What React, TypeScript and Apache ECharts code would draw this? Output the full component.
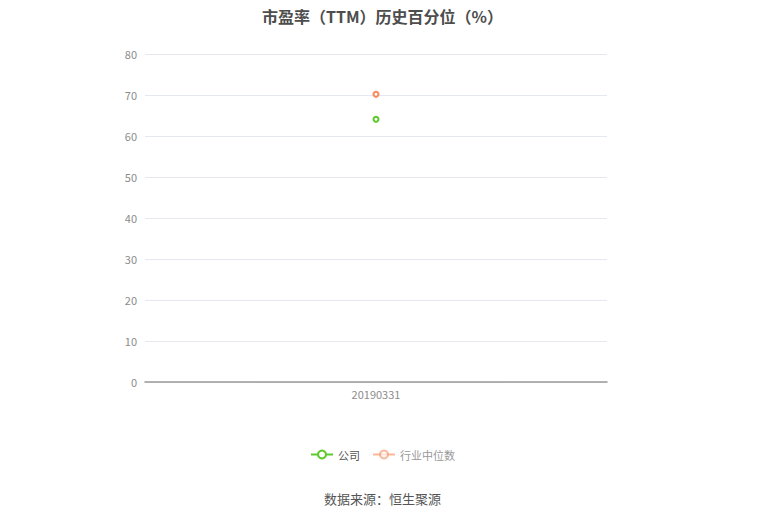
import React, { useEffect, useRef } from "react";
import * as echarts from "echarts";

const dates: string[] = ["20190331"];
const companyValues: number[] = [64.1];
const industryValues: number[] = [70.2];

const App: React.FC = () => {
  const chartRef = useRef<HTMLDivElement | null>(null);

  useEffect(() => {
    const chartDom = chartRef.current;
    if (!chartDom) return;
    const myChart = echarts.init(chartDom, undefined, { renderer: "svg" });

    const option = {
      animation: false,
      backgroundColor: "#fff",
      textStyle: { fontFamily: "Noto Sans CJK SC" },
      title: {
        text: "市盈率（TTM）历史百分位（%）",
        left: "center",
        top: 3,
        textStyle: {
          fontSize: 16,
          fontWeight: "bold",
          color: "#4d4d4d",
          fontFamily: "Noto Sans CJK SC",
        },
      },
      legend: {
        bottom: 52,
        left: "center",
        itemWidth: 22,
        itemHeight: 10,
        itemGap: 12,
        textStyle: { fontSize: 11, color: "#555", fontFamily: "Noto Sans CJK SC" },
        data: [
          { name: "公司" },
          { name: "行业中位数", textStyle: { color: "#999" }, itemStyle: { opacity: 0.6 }, lineStyle: { opacity: 0.6 } },
        ],
      },
      graphic: [
        {
          type: "text",
          left: "center",
          top: 492,
          style: {
            text: "数据来源：恒生聚源",
            fontSize: 13,
            fill: "#555",
            fontFamily: "Noto Sans CJK SC",
          },
        },
      ],
      grid: { left: 145, right: 158, top: 54, bottom: 135 },
      xAxis: {
        type: "category",
        data: dates,
        axisLine: { lineStyle: { color: "#999", width: 1.5 } },
        axisTick: { alignWithLabel: true, lineStyle: { color: "#999" } },
        axisLabel: { color: "#8c8c8c", fontSize: 11, margin: 6, fontFamily: "Noto Sans CJK SC" },
      },
      yAxis: {
        type: "value",
        min: 0,
        max: 80,
        interval: 10,
        axisLine: { show: false },
        axisTick: { show: false },
        axisLabel: { color: "#8c8c8c", fontSize: 11, margin: 8, fontFamily: "Noto Sans CJK SC" },
        splitLine: { lineStyle: { color: "#e6e8f0" } },
      },
      series: [
        {
          name: "公司",
          type: "line",
          data: companyValues,
          symbol: "emptyCircle",
          symbolSize: 5,
          color: "#5cc92a",
          lineStyle: { width: 2 },
          itemStyle: { borderWidth: 2 },
        },
        {
          name: "行业中位数",
          type: "line",
          data: industryValues,
          symbol: "emptyCircle",
          symbolSize: 5,
          color: "#f8895c",
          lineStyle: { width: 2 },
          itemStyle: { borderWidth: 2 },
        },
      ],
    };

    myChart.setOption(option);
    return () => {
      myChart.dispose();
    };
  }, []);

  return (
    <div
      ref={chartRef}
      style={{ position: "fixed", top: 0, left: 0, width: 765, height: 517 }}
    />
  );
};

export default App;
